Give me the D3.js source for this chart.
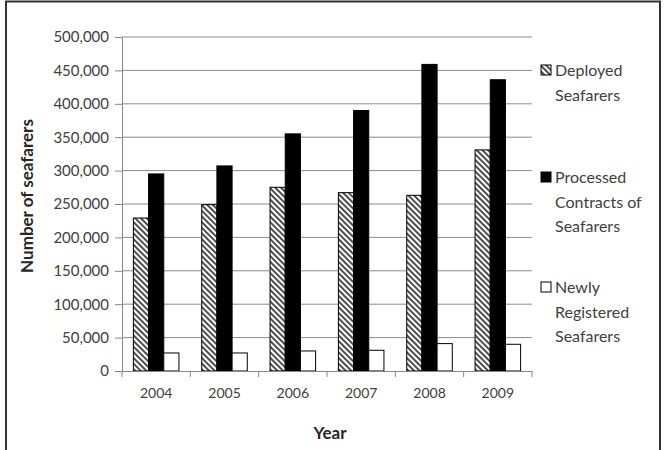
<!DOCTYPE html>
<html>
<head>
<meta charset="utf-8">
<script src="https://cdn.jsdelivr.net/npm/d3@7"></script>
<style>
  body { margin: 0; background: #fff; }
  text { font-family: Lato, "Open Sans", sans-serif; }
</style>
</head>
<body>
<script>
// data
const years = ['2004', '2005', '2006', '2007', '2008', '2009'];
const deployed = [229000, 249000, 275000, 267000, 263000, 331000];
const processed = [295000, 307000, 355000, 390000, 459000, 436000];
const newlyRegistered = [27000, 27000, 30000, 31000, 41000, 40000];
const yTicks = [0, 50000, 100000, 150000, 200000, 250000, 300000, 350000, 400000, 450000, 500000];
const seriesNames = ['deployed', 'processed', 'newly'];
const legendLabels = [['Deployed', 'Seafarers'], ['Processed', 'Contracts of', 'Seafarers'], ['Newly', 'Registered', 'Seafarers']];

const width = 665;
const height = 450;
const margin = { top: 37, right: 133, bottom: 79, left: 122 };

const svg = d3.select('body')
  .append('svg')
  .attr('width', width)
  .attr('height', height);

// hatch pattern for deployed bars
const defs = svg.append('defs');
defs.append('pattern')
  .attr('id', 'hatch')
  .attr('patternUnits', 'userSpaceOnUse')
  .attr('width', 4)
  .attr('height', 4)
  .attr('patternTransform', 'rotate(45)')
  .call(p => {
    p.append('rect').attr('width', 4).attr('height', 4).attr('fill', '#fff');
    p.append('line').attr('x1', 0).attr('x2', 4).attr('y1', 1).attr('y2', 1)
      .attr('stroke', '#3a3a3a').attr('stroke-width', 1.8);
  });

const fills = { deployed: 'url(#hatch)', processed: '#000', newly: '#fff' };

// outer frame
svg.append('rect')
  .attr('x', 6).attr('y', 1.5)
  .attr('width', 654).attr('height', 470)
  .attr('fill', 'none')
  .attr('stroke', '#333')
  .attr('stroke-width', 2);

const yScale = d3.scaleLinear()
  .domain([0, 500000])
  .range([height - margin.bottom, margin.top]);

const xScale = d3.scaleBand()
  .domain(years)
  .range([margin.left, width - margin.right]);

// bar width: gap width of 150%
const barW = xScale.bandwidth() / 4.5;
const xInner = d3.scaleBand()
  .domain(seriesNames)
  .range([0, barW * 3])
  .padding(0);
const groupOffset = (xScale.bandwidth() - barW * 3) / 2;

// gridlines
svg.append('g')
  .selectAll('line')
  .data(yTicks.slice(1))
  .join('line')
  .attr('x1', margin.left)
  .attr('x2', width - margin.right)
  .attr('y1', d => yScale(d))
  .attr('y2', d => yScale(d))
  .attr('stroke', '#8c8c8c')
  .attr('stroke-width', 1);

// bars
const rows = years.map((y, i) => ({
  year: y,
  values: [
    { key: 'deployed', value: deployed[i] },
    { key: 'processed', value: processed[i] },
    { key: 'newly', value: newlyRegistered[i] }
  ]
}));

svg.append('g')
  .selectAll('g')
  .data(rows)
  .join('g')
  .attr('transform', d => `translate(${xScale(d.year) + groupOffset},0)`)
  .selectAll('rect')
  .data(d => d.values)
  .join('rect')
  .attr('x', d => xInner(d.key))
  .attr('y', d => yScale(d.value))
  .attr('width', xInner.bandwidth())
  .attr('height', d => yScale(0) - yScale(d.value))
  .attr('fill', d => fills[d.key])
  .attr('stroke', '#000')
  .attr('stroke-width', 1);

// Y axis
const yAxis = d3.axisLeft(yScale)
  .tickValues(yTicks)
  .tickFormat(d3.format(','))
  .tickSize(7)
  .tickPadding(6);

svg.append('g')
  .attr('transform', `translate(${margin.left},0)`)
  .call(yAxis)
  .call(g => g.select('.domain').attr('stroke', '#868686'))
  .call(g => g.selectAll('.tick line').attr('stroke', '#868686'))
  .call(g => g.selectAll('text').attr('font-size', 15).attr('fill', '#404040')
    .style('font-family', 'Lato, sans-serif'));

// X axis
const xAxis = d3.axisBottom(xScale).tickSize(0).tickPadding(17);

svg.append('g')
  .attr('transform', `translate(0,${yScale(0)})`)
  .call(xAxis)
  .call(g => g.select('.domain').attr('stroke', '#868686'))
  .call(g => g.selectAll('text').attr('font-size', 14).attr('fill', '#404040')
    .style('font-family', 'Lato, sans-serif'));

// category boundary ticks
svg.append('g')
  .selectAll('line')
  .data(years.map(d => xScale(d)).concat([xScale.range()[1]]))
  .join('line')
  .attr('x1', d => d).attr('x2', d => d)
  .attr('y1', yScale(0)).attr('y2', yScale(0) + 6)
  .attr('stroke', '#868686');

// axis titles
svg.append('text')
  .attr('transform', `translate(33,${(margin.top + height - margin.bottom) / 2 - 8}) rotate(-90)`)
  .attr('text-anchor', 'middle')
  .attr('font-size', 17)
  .attr('font-weight', 'bold')
  .attr('fill', '#262626')
  .text('Number of seafarers');

svg.append('text')
  .attr('x', (margin.left + width - margin.right) / 2 + 3)
  .attr('y', 439)
  .attr('text-anchor', 'middle')
  .attr('font-size', 17)
  .attr('font-weight', 'bold')
  .attr('fill', '#262626')
  .text('Year');

// legend
const legendTops = [70, 177, 287];
const legend = svg.append('g')
  .selectAll('g')
  .data(seriesNames)
  .join('g')
  .attr('transform', (d, i) => `translate(541,${legendTops[i]})`);

legend.append('rect')
  .attr('x', 0).attr('y', -5)
  .attr('width', 10).attr('height', 10)
  .attr('fill', d => fills[d])
  .attr('stroke', '#000')
  .attr('stroke-width', 1);

legend.append('text')
  .attr('x', 14)
  .attr('font-size', 16)
  .attr('fill', '#404040')
  .selectAll('tspan')
  .data((d, i) => legendLabels[i])
  .join('tspan')
  .attr('x', 14)
  .attr('y', (d, i) => 6 + i * 24.5)
  .text(d => d);
</script>
</body>
</html>
